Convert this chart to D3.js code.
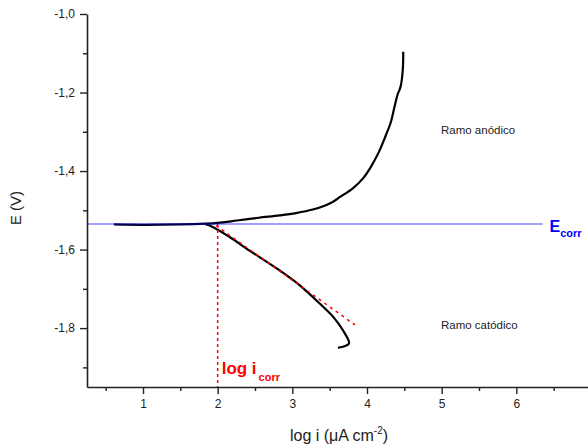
<!DOCTYPE html>
<html>
<head>
<meta charset="utf-8">
<script src="https://cdn.jsdelivr.net/npm/d3@7"></script>
<style>
  body { margin: 0; background: #fff; }
  svg { display: block; font-family: Arial, "Liberation Sans", sans-serif; }
</style>
</head>
<body>
<svg></svg>
<script>
// anodic branch (log i, E)
var anodicLogI = [0.61, 1.0, 1.5, 1.83, 2.0, 2.26, 2.55, 2.83, 3.05, 3.275, 3.45, 3.54, 3.64, 3.81, 3.95, 4.05, 4.15, 4.25, 4.32, 4.37, 4.41, 4.45, 4.48, 4.485];
var anodicE    = [-1.536, -1.537, -1.536, -1.534, -1.532, -1.526, -1.519, -1.513, -1.507, -1.498, -1.487, -1.479, -1.466, -1.444, -1.418, -1.39, -1.355, -1.31, -1.275, -1.235, -1.205, -1.185, -1.14, -1.096];

// cathodic branch
var cathodicLogI = [1.83, 1.94, 2.16, 2.39, 2.83, 3.10, 3.37, 3.55, 3.68, 3.76, 3.70, 3.61];
var cathodicE    = [-1.535, -1.543, -1.568, -1.598, -1.653, -1.691, -1.738, -1.772, -1.806, -1.839, -1.846, -1.850];

// Tafel tangent and corrosion values
var tafelLogI = [1.98, 3.84];
var tafelE = [-1.539, -1.792];
var eCorr = -1.535;
var eCorrEnd = 6.35;
var logICorr = 2.0;

var xTicks = [1, 2, 3, 4, 5, 6, 7];
var xMinor = [0.5, 1.5, 2.5, 3.5, 4.5, 5.5, 6.5];
var yTicks = [-1.0, -1.2, -1.4, -1.6, -1.8];
var yMinor = [-1.1, -1.3, -1.5, -1.7, -1.9];

var svg = d3.select("svg")
  .attr("width", 588)
  .attr("height", 448);

var xScale = d3.scaleLinear()
  .domain([0.25, 7])
  .range([87, 591]);

var yScale = d3.scaleLinear()
  .domain([-1.95, -1.0])
  .range([387, 14]);

var fmt = function(d) { return d.toFixed(1).replace(".", ","); };

// minor ticks first
svg.append("g")
  .attr("transform", "translate(0,387)")
  .call(d3.axisBottom(xScale).tickValues(xMinor).tickSize(4).tickFormat(""))
  .call(function(g) { g.select(".domain").remove(); });

svg.append("g")
  .attr("transform", "translate(87,0)")
  .call(d3.axisLeft(yScale).tickValues(yMinor).tickSize(4).tickFormat(""))
  .call(function(g) { g.select(".domain").remove(); });

var xAxis = svg.append("g")
  .attr("transform", "translate(0,387)")
  .call(d3.axisBottom(xScale).tickValues(xTicks).tickSize(7).tickSizeOuter(0).tickPadding(5).tickFormat(d3.format("d")));

var yAxis = svg.append("g")
  .attr("transform", "translate(87,0)")
  .call(d3.axisLeft(yScale).tickValues(yTicks).tickSize(7).tickSizeOuter(0).tickPadding(5).tickFormat(fmt));

[xAxis, yAxis].forEach(function(g) {
  g.selectAll("text").attr("font-size", 12).attr("fill", "#222").attr("font-family", "Arial, 'Liberation Sans', sans-serif");
  g.select(".domain").attr("stroke", "#222").attr("stroke-width", 1.6);
});
svg.selectAll(".tick line").attr("stroke", "#222").attr("stroke-width", 1.4);

var line = d3.line()
  .x(function(d) { return xScale(d[0]); })
  .y(function(d) { return yScale(d[1]); })
  .curve(d3.curveCatmullRom);

var anodic = anodicLogI.map(function(d, i) { return [d, anodicE[i]]; });
var cathodic = cathodicLogI.map(function(d, i) { return [d, cathodicE[i]]; });
var tafel = tafelLogI.map(function(d, i) { return [d, tafelE[i]]; });

svg.append("path")
  .datum(anodic)
  .attr("d", line)
  .attr("fill", "none")
  .attr("stroke", "#000")
  .attr("stroke-width", 2.2);

svg.append("path")
  .datum(cathodic)
  .attr("d", line)
  .attr("fill", "none")
  .attr("stroke", "#000")
  .attr("stroke-width", 2.2);

// tangent
svg.append("path")
  .datum(tafel)
  .attr("d", d3.line().x(function(d) { return xScale(d[0]); }).y(function(d) { return yScale(d[1]); }))
  .attr("fill", "none")
  .attr("stroke", "#ff0000")
  .attr("stroke-width", 1.5)
  .attr("stroke-dasharray", "3,4");

// log icorr vertical
svg.append("line")
  .attr("x1", xScale(logICorr)).attr("x2", xScale(logICorr))
  .attr("y1", yScale(eCorr)).attr("y2", yScale(-1.95))
  .attr("stroke", "#ff0000")
  .attr("stroke-width", 1.5)
  .attr("stroke-dasharray", "3,3");

// Ecorr line
svg.append("line")
  .attr("x1", xScale(0.25)).attr("x2", xScale(eCorrEnd))
  .attr("y1", yScale(eCorr)).attr("y2", yScale(eCorr))
  .attr("stroke", "#0000ff")
  .attr("stroke-opacity", 0.5)
  .attr("stroke-width", 1.6);

var ec = svg.append("text")
  .attr("x", xScale(eCorrEnd) + 7)
  .attr("y", yScale(eCorr) + 8)
  .attr("fill", "#0000ff")
  .attr("font-weight", "bold")
  .attr("font-size", 16);
ec.append("tspan").text("E");
ec.append("tspan").attr("dy", 5).attr("font-size", 11).text("corr");

var li = svg.append("text")
  .attr("x", xScale(logICorr) + 4)
  .attr("y", 374)
  .attr("fill", "#ff0000")
  .attr("font-weight", "bold")
  .attr("font-size", 17);
li.append("tspan").text("log i");
li.append("tspan").attr("dy", 7).attr("dx", 2).attr("font-size", 11).text("corr");

svg.append("text")
  .attr("x", 441).attr("y", 134)
  .attr("font-size", 11.5).attr("fill", "#222")
  .text("Ramo anódico");

svg.append("text")
  .attr("x", 441).attr("y", 329)
  .attr("font-size", 11.5).attr("fill", "#222")
  .text("Ramo catódico");

// axis titles
svg.append("text")
  .attr("transform", "translate(21,208) rotate(-90)")
  .attr("text-anchor", "middle")
  .attr("font-size", 15).attr("fill", "#222")
  .text("E (V)");

var xt = svg.append("text")
  .attr("x", 339).attr("y", 441)
  .attr("text-anchor", "middle")
  .attr("font-size", 16).attr("fill", "#222");
xt.append("tspan").text("log i (\u03bcA cm");
xt.append("tspan").attr("dy", -7).attr("font-size", 10).text("-2");
xt.append("tspan").attr("dy", 7).text(")");
</script>
</body>
</html>
